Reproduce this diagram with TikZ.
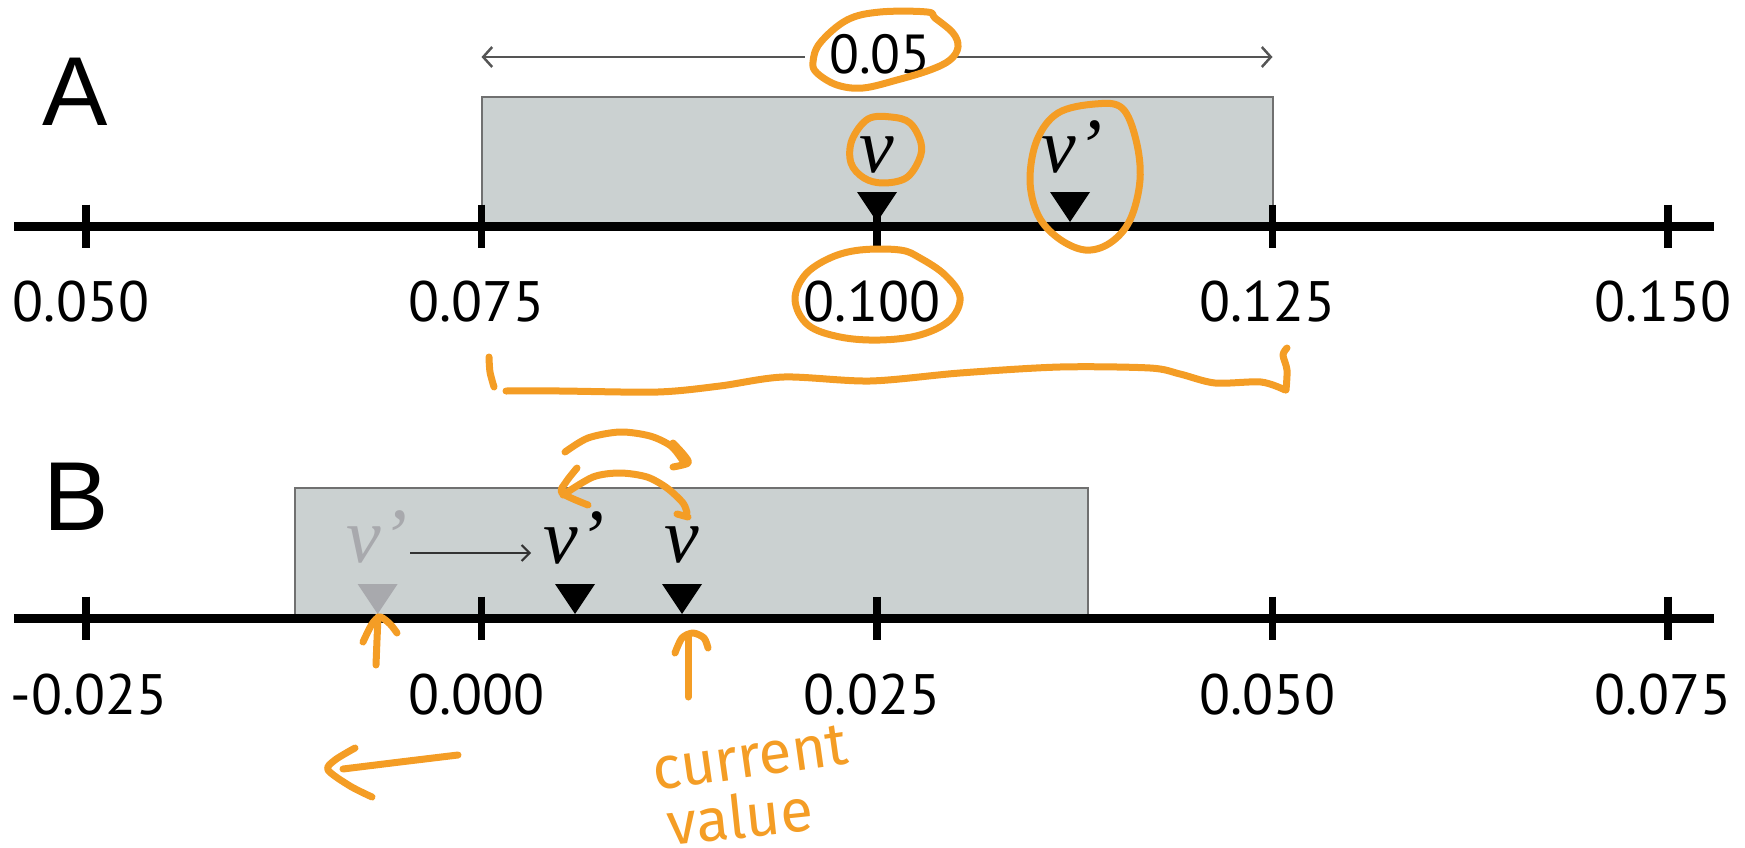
\documentclass[tikz,border=0pt]{standalone}
\usepackage{fontspec}
\setmainfont{Liberation Serif}
\newfontfamily\tickfont{PT Sans}
\newfontfamily\panelfont{Liberation Sans}
\newfontfamily\handfont{Fira Sans}
\usetikzlibrary{arrows.meta}
\definecolor{boxfill}{HTML}{CBD1D1}
\definecolor{boxline}{HTML}{707070}
\definecolor{ghost}{HTML}{A8A9AD}
\definecolor{hand}{HTML}{F49D25}
\definecolor{dimgrey}{HTML}{555555}
\tikzset{
  tri/.pic={\path[pic actions] (-20,-30) -- (20,-30) -- (0,0) -- cycle;},
}
\begin{document}
\begin{tikzpicture}[x=1pt,y=-1pt,
  axisline/.style={line width=9pt},
  tickline/.style={line width=7.5pt},
  rangebox/.style={fill=boxfill, draw=boxline, line width=2pt},
  ticklabel/.style={font=\tickfont\fontsize{57}{60}\selectfont, inner sep=0pt},
  panel/.style={font=\panelfont\fontsize{98}{100}\selectfont, inner sep=0pt},
  vlabel/.style={font=\fontsize{78}{80}\selectfont\itshape, inner sep=0pt, anchor=base},
  dimline/.style={draw=dimgrey, line width=2.5pt},
  hand/.style={draw=hand, line width=7pt, line cap=round, line join=round},
  handtext/.style={font=\handfont\fontsize{60}{62}\selectfont, text=hand, inner sep=0pt},
]
\useasboundingbox (0,0) rectangle (1745,848);

% ---------------- Panel A ----------------
\node[panel] (labA) at (75,92) {A};
\draw[rangebox] (481.5,97) rectangle (1272.5,226);
\draw[axisline] (14,226) -- (1714,226);
\foreach \x/\t [count=\i] in {86/0.050, 481.5/0.075, 877/0.100, 1272.5/0.125, 1668/0.150} {
  \draw[tickline] (\x,204.5) -- (\x,247.5);
  \node[ticklabel] (tA\i) at (\x-5,302) {\t};
}
\pic[fill=black] at (877,222) {tri};
\pic[fill=black] at (1070,222) {tri};
\node[vlabel] (vA) at (877,172) {v};
\node[vlabel] (vpA) at (1072,172) {v’};

\coordinate (aL) at (481.5,57);
\coordinate (aR) at (1272.5,57);
\node[ticklabel, font=\tickfont\fontsize{55}{58}\selectfont, minimum width=150pt] (dimlbl) at (880,54) {0.05};
\draw[dimline, {Straight Barb[length=9pt,width=20pt]}-] (aL) -- (aL -| dimlbl.west);
\draw[dimline, -{Straight Barb[length=9pt,width=20pt]}] (aR -| dimlbl.east) -- (aR);

% ---------------- Panel B ----------------
\node[panel] (labB) at (76,497) {B};
\draw[rangebox] (294.7,488.3) rectangle (1087.7,618);
\draw[axisline] (14,618) -- (1714,618);
\foreach \x/\t/\o [count=\i] in {86/-0.025/3, 481.5/0.000/-5, 877/0.025/-5, 1272.5/0.050/-5, 1668/0.075/-5} {
  \draw[tickline] (\x,596.5) -- (\x,639.5);
  \node[ticklabel] (tB\i) at (\x+\o,695) {\t};
}
\pic[fill=ghost] at (377.6,614) {tri};
\pic[fill=black] at (575,614) {tri};
\pic[fill=black] at (682,614) {tri};
\node[vlabel, text=ghost] (gvp) at (377,562) {v’};
\node[vlabel] (vpB) at (574,563) {v’};
\node[vlabel] (vB) at (682,562) {v};
\coordinate (mvL) at (410,553);
\coordinate (mvR) at (531,553);
\draw[draw=black!80, line width=2pt, -{Straight Barb[length=8pt,width=16pt]}] (mvL) -- (mvR);

% ---------------- hand annotations ----------------
% ellipse round 0.05
\draw[hand] plot[smooth cycle, tension=0.6] coordinates {(813,62) (820,43) (847,20) (880,12) (927,12) (935,18) (953,33) (958,47) (950,60) (930,70) (897,80) (863,88) (837,85) (817,73)};
% ellipse round v (A)
\draw[hand] plot[smooth cycle, tension=0.6] coordinates {(852,140) (851,163) (864,178) (883,183) (906,178) (919,160) (921,143) (910,123) (891,117) (868,119)};
% ellipse round v' (A)
\draw[hand] plot[smooth cycle, tension=0.6] coordinates {(1030,180) (1037,140) (1058,113) (1095,104) (1122,108) (1136,140) (1140,180) (1130,220) (1110,243) (1085,250) (1058,238) (1038,215)};
% ellipse round 0.100
\draw[hand] plot[smooth cycle, tension=0.6] coordinates {(795,300) (805,275) (830,258) (860,250) (900,250) (920,258) (945,275) (960,297) (950,320) (920,335) (880,340) (840,337) (808,325)};
% bracket
\draw[hand] plot[smooth] coordinates {(489,357) (490,372) (494,387)};
\draw[hand] plot[smooth] coordinates {(506,391) (560,391) (658,392) (720,386) (784,377) (870,381) (960,373) (1060,367) (1150,368) (1180,374) (1215,383) (1261,382) (1285,390)};
\draw[hand] plot[smooth] coordinates {(1286,390) (1287,370) (1283,355) (1287,348)};
% swap arrows
\draw[hand] plot[smooth] coordinates {(565,452) (588,438) (620,432) (650,436) (671,446) (683,461)};
\draw[hand] plot[smooth] coordinates {(673,443) (684,455) (688,463) (673,467)};
\draw[hand] plot[smooth] coordinates {(687,513) (683,503) (667,488) (647,477) (620,473) (593,477) (563,495)};
\draw[hand] plot[smooth] coordinates {(577,468) (566,482) (562,493) (588,505)};
\draw[hand] (677,514) -- (688,517);
% up arrow under old v'
\draw[hand] plot[smooth] coordinates {(376,665) (377,640) (378,617)};
\draw[hand] plot[smooth] coordinates {(363,642) (372,624) (380,617) (390,624) (397,633)};
% up arrow under current v
\draw[hand] plot[smooth] coordinates {(688,697) (688,665) (688,637)};
\draw[hand] plot[smooth] coordinates {(675,653) (682,638) (693,633) (704,638) (708,648)};
% left arrow
\draw[hand] plot[smooth] coordinates {(458,755) (400,762) (343,769)};
\draw[hand] plot[smooth] coordinates {(355,748) (335,760) (328,770) (350,786) (372,797)};
% handwritten note
\node[handtext, rotate=8] (cur) at (750,758) {current};
\node[handtext, rotate=6] (val) at (740,816) {value};
\end{tikzpicture}
\end{document}
